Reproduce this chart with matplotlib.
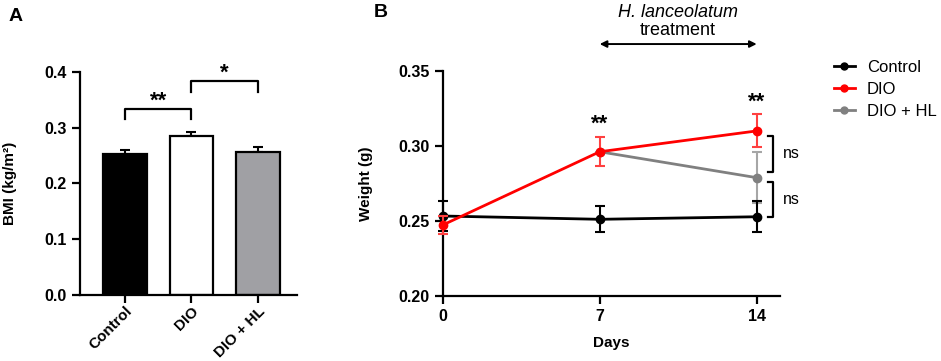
import matplotlib.pyplot as plt
from matplotlib.lines import Line2D
import numpy as np

plt.rcParams['font.family'] = ['Liberation Sans', 'DejaVu Sans']

# panel A - BMI
groups = ['Control', 'DIO', 'DIO + HL']
bmi = [0.252, 0.2845, 0.257]
bmi_err = [0.007, 0.008, 0.009]
bar_colors = ['black', 'white', '#a0a0a4']

# panel B - weight over time
days = [0, 7, 14]
ctrl_w = [0.2532, 0.251, 0.2527]
ctrl_err = [0.0102, 0.0087, 0.0103]
dio_w = [0.2472, 0.2961, 0.310]
dio_err = [0.006, 0.0096, 0.011]
hl_days = [7, 14]
hl_w = [0.2961, 0.2788]
hl_err = [0.0, 0.017]

RED = '#ff0000'
GREY = '#808080'

fig = plt.figure(figsize=(9.41, 3.61), dpi=100)

# ---- A ----
ax = fig.add_axes([0.085, 0.1828, 0.2306, 0.6186])
x = np.arange(len(groups))
ax.bar(x, bmi, width=0.66, color=bar_colors, edgecolor='black', linewidth=1.6, zorder=2)
ax.errorbar(x, bmi, yerr=[[0, 0, 0], bmi_err], fmt='none', ecolor='black',
            elinewidth=1.5, capsize=3.6, capthick=1.5, zorder=1)
ax.set_xlim(-0.68, 2.59)
ax.set_ylim(0, 0.4)
ax.set_yticks([0.0, 0.1, 0.2, 0.3, 0.4])
ax.set_yticklabels(['0.0', '0.1', '0.2', '0.3', '0.4'])
ax.set_xticks(x)
ax.set_xticklabels(groups, rotation=45, ha='right', rotation_mode='anchor')
ax.set_ylabel('BMI (kg/m²)', fontweight='bold', fontsize=11, labelpad=20)
for s in ['top', 'right']:
    ax.spines[s].set_visible(False)
for s in ['left', 'bottom']:
    ax.spines[s].set_linewidth(1.6)
ax.tick_params(width=1.6, length=6, labelsize=11.5)
ax.tick_params(axis='x', pad=0.5, labelsize=11)
for lab in ax.get_xticklabels() + ax.get_yticklabels():
    lab.set_fontweight('bold')

# significance brackets
def bracket(ax, x0, x1, y, ytip, txt, ytxt):
    ax.plot([x0, x0, x1, x1], [ytip, y, y, ytip], color='black', lw=1.6, clip_on=False)
    ax.text((x0 + x1) / 2, ytxt, txt, ha='center', va='baseline',
            fontsize=16, fontweight='bold')

bracket(ax, 0, 1, 0.334, 0.316, '**', 0.337)
bracket(ax, 1, 2, 0.384, 0.363, '*', 0.388)

fig.text(0.009, 0.955, 'A', fontsize=14, fontweight='bold', va='center')

# ---- B ----
bx = fig.add_axes([0.4705, 0.1809, 0.3584, 0.6224])
bx.errorbar(days, ctrl_w, yerr=ctrl_err, color='black', marker='o', ms=6, lw=2,
            elinewidth=1.5, capsize=3.6, capthick=1.5, clip_on=False, zorder=3)
bx.errorbar(hl_days, hl_w, yerr=hl_err, color=GREY, marker='o', ms=6, lw=2,
            ecolor='#a6a6a6', elinewidth=1.5, capsize=3.6, capthick=1.5,
            clip_on=False, zorder=2)
bx.errorbar(days, dio_w, yerr=dio_err, color=RED, marker='o', ms=6, lw=2,
            ecolor='#ff4040', elinewidth=1.5, capsize=3.6, capthick=1.5,
            clip_on=False, zorder=4)
bx.set_xlim(0, 15.04)
bx.set_ylim(0.20, 0.35)
bx.set_xticks(days)
bx.set_yticks([0.20, 0.25, 0.30, 0.35])
bx.set_yticklabels(['0.20', '0.25', '0.30', '0.35'])
bx.set_xlabel('Days', fontweight='bold', fontsize=11, labelpad=9)
bx.set_ylabel('Weight (g)', fontweight='bold', fontsize=11, labelpad=18)
for s in ['top', 'right']:
    bx.spines[s].set_visible(False)
for s in ['left', 'bottom']:
    bx.spines[s].set_linewidth(1.6)
bx.tick_params(width=1.6, length=6, labelsize=11.5)
for lab in bx.get_xticklabels() + bx.get_yticklabels():
    lab.set_fontweight('bold')

bx.text(7, 0.311, '**', ha='center', va='baseline', fontsize=16, fontweight='bold')
bx.text(14, 0.3255, '**', ha='center', va='baseline', fontsize=16, fontweight='bold')

# ns brackets
def ns_bracket(ax, x, y0, y1):
    ax.plot([x - 0.25, x, x, x - 0.25], [y0, y0, y1, y1], color='black', lw=1.6, clip_on=False)
    ax.text(x + 0.4, (y0 + y1) / 2, 'ns', ha='left', va='center', fontsize=11.5)

ns_bracket(bx, 14.75, 0.3066, 0.2826)
ns_bracket(bx, 14.75, 0.2761, 0.2524)

# treatment arrow
bx.annotate('', xy=(14, 0.368), xytext=(7, 0.368), xycoords='data',
            arrowprops=dict(arrowstyle='<|-|>', color='black', lw=1.4,
                            mutation_scale=10, shrinkA=0, shrinkB=0),
            annotation_clip=False)
fig.text(0.7205, 0.902, 'treatment', ha='center', va='baseline', fontsize=13)
fig.text(0.7205, 0.953, 'H. lanceolatum', ha='center', va='baseline', fontsize=13,
         style='italic')

fig.text(0.397, 0.965, 'B', fontsize=14, fontweight='bold', va='center')

handles = [Line2D([], [], color=c, marker='o', ms=5, lw=2) for c in ['black', RED, GREY]]
fig.legend(handles, ['Control', 'DIO', 'DIO + HL'], loc='upper left',
           bbox_to_anchor=(0.877, 0.857), frameon=False, borderpad=0,
           fontsize=12, handlelength=1.3, handletextpad=0.7, labelspacing=0.42)

fig.savefig('out.png', dpi=100)
